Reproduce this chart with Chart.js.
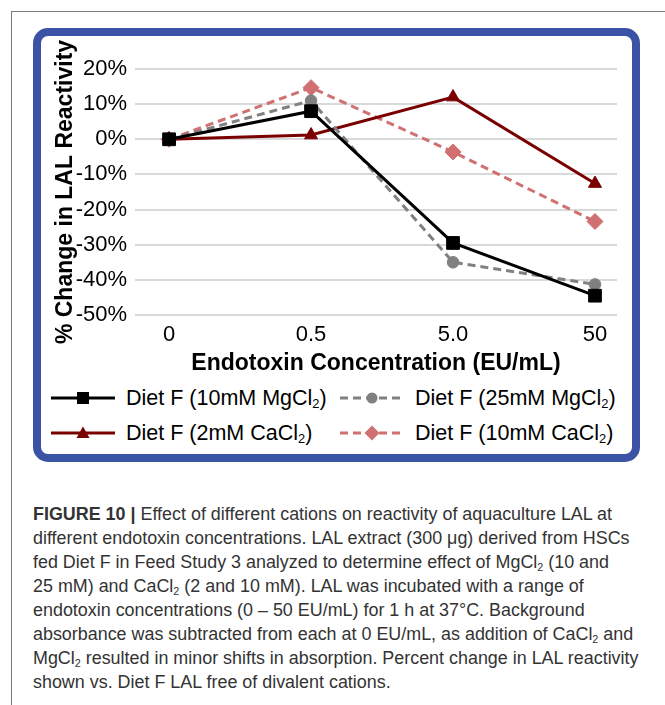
<!DOCTYPE html>
<html>
<head>
<meta charset="utf-8">
<script src="https://cdn.jsdelivr.net/npm/chart.js@4.4.1/dist/chart.umd.min.js"></script>
<style>
  html, body { margin: 0; padding: 0; background: #fff; }
  #page { position: relative; width: 665px; height: 705px; overflow: hidden; font-family: "Liberation Sans", Arial, sans-serif; }
  #frame { position: absolute; left: 11px; top: 11px; width: 660px; height: 700px; border-top: 1px solid #7a7a7a; border-left: 1px solid #7a7a7a; }
  #box { position: absolute; left: 33px; top: 28px; width: 607px; height: 434px; box-sizing: border-box; border: 8px solid #3a53a4; border-radius: 15px; }
  #wrap { position: absolute; left: 41px; top: 36px; width: 591px; height: 345px; }
  .leg { position: absolute; height: 30px; display: flex; align-items: center; font-size: 21.5px; color: #000; white-space: nowrap; }
  .leg svg { margin-right: 11px; }
  sub { font-size: 0.6em; vertical-align: -0.25em; line-height: 0; }
  #caption { position: absolute; left: 33px; top: 502px; font-family: "Liberation Sans", Arial, sans-serif; font-size: 17.5px; line-height: 24px; color: #333; white-space: nowrap; transform-origin: 0 0; }
</style>
</head>
<body>
<div id="page">
  <div id="frame"></div>
  <div id="box"></div>
  <div id="wrap"><canvas id="lalChart" width="591" height="345"></canvas></div>
  <div id="legend"></div>
  <div id="caption"><span id="capLine1"><b>FIGURE 10 |</b> Effect of different cations on reactivity of aquaculture LAL at</span><br>different endotoxin concentrations. LAL extract (300 μg) derived from HSCs<br>fed Diet F in Feed Study 3 analyzed to determine effect of MgCl<sub>2</sub> (10 and<br>25 mM) and CaCl<sub>2</sub> (2 and 10 mM). LAL was incubated with a range of<br>endotoxin concentrations (0 – 50 EU/mL) for 1 h at 37°C. Background<br>absorbance was subtracted from each at 0 EU/mL, as addition of CaCl<sub>2</sub> and<br>MgCl<sub>2</sub> resulted in minor shifts in absorption. Percent change in LAL reactivity<br>shown vs. Diet F LAL free of divalent cations.</div>
</div>
<script>
// endotoxin concentrations (EU/mL), x categories
const concentrations = ['0', '0.5', '5.0', '50'];

// % change in LAL reactivity
const mg10 = [0, 8, -29.5, -44.5];
const mg25 = [0, 11, -35, -41.3];
const ca2 = [0, 1.2, 12, -12.6];
const ca10 = [0, 14.7, -3.6, -23.4];

const seriesNames = ['Diet F (10mM MgCl2)', 'Diet F (25mM MgCl2)', 'Diet F (2mM CaCl2)', 'Diet F (10mM CaCl2)'];
const yTicks = [20, 10, 0, -10, -20, -30, -40, -50];

const styles = [
    { color: '#000000', dash: [], point: 'rect', radius: 9 },
    { color: '#808080', dash: [8, 5], point: 'circle', radius: 5.8 },
    { color: '#7a0000', dash: [], point: 'triangle', radius: 7.5 },
    { color: '#d07070', dash: [8, 5], point: 'rectRot', radius: 8 }
];

const seriesValues = [mg10, mg25, ca2, ca10];

const datasets = seriesValues.map((vals, i) => ({
    label: seriesNames[i],
    data: vals.map((v, j) => ({ x: j, y: v })),
    borderColor: styles[i].color,
    backgroundColor: styles[i].color,
    borderWidth: 3,
    borderDash: styles[i].dash,
    pointStyle: styles[i].point,
    pointRadius: styles[i].radius,
    pointBorderWidth: 1,
    tension: 0
}));

const ctx = document.getElementById('lalChart').getContext('2d');
new Chart(ctx, {
    type: 'line',
    data: { datasets: datasets },
    options: {
        responsive: false,
        animation: false,
        layout: { padding: { left: 0, right: 15, top: 33, bottom: 0 } },
        plugins: {
            legend: { display: false },
            tooltip: { enabled: false }
        },
        scales: {
            x: {
                type: 'linear',
                min: -0.24,
                max: 3.155,
                afterBuildTicks: (scale) => {
                    scale.ticks = concentrations.map((c, i) => ({ value: i }));
                },
                afterFit: (scale) => { scale.height = 66; },
                grid: { display: false, drawTicks: false },
                border: { display: false },
                ticks: {
                    color: '#000',
                    padding: 7,
                    font: { family: 'Liberation Sans', size: 22 },
                    callback: (v) => concentrations[v]
                },
                title: {
                    display: true,
                    text: 'Endotoxin Concentration (EU/mL)',
                    color: '#000',
                    padding: { top: 0, bottom: 4 },
                    font: { family: 'Liberation Sans', size: 23, weight: 'bold' }
                }
            },
            y: {
                min: -50,
                max: 20,
                afterBuildTicks: (scale) => {
                    scale.ticks = yTicks.map((v) => ({ value: v }));
                },
                afterFit: (scale) => { scale.width = 94; },
                grid: { color: '#d9d9d9', lineWidth: 2, drawTicks: false },
                border: { display: false },
                ticks: {
                    color: '#000',
                    padding: 8,
                    font: { family: 'Liberation Sans', size: 22 },
                    callback: (v) => v + '%'
                },
                title: {
                    display: true,
                    text: '% Change in LAL Reactivity',
                    color: '#000',
                    padding: { top: 11, bottom: 0 },
                    font: { family: 'Liberation Sans', size: 23, weight: 'bold' }
                }
            }
        }
    }
});

// legend with line + marker symbols and subscripts
const legendPos = [
    { left: 51, top: 383 },
    { left: 340, top: 383 },
    { left: 51, top: 418 },
    { left: 340, top: 418 }
];

function markerSvg(s) {
    const c = s.color;
    if (s.point === 'rect') return `<rect x="26" y="9" width="12" height="12" fill="${c}"/>`;
    if (s.point === 'circle') return `<circle cx="32" cy="15" r="5.5" fill="${c}"/>`;
    if (s.point === 'triangle') return `<polygon points="32,8.5 38.5,20 25.5,20" fill="${c}"/>`;
    return `<polygon points="32,7.5 39.5,15 32,22.5 24.5,15" fill="${c}"/>`;
}

const legendEl = document.getElementById('legend');
seriesNames.forEach((name, i) => {
    const s = styles[i];
    const dash = s.dash.length ? `stroke-dasharray="${s.dash.join(',')}"` : '';
    const div = document.createElement('div');
    div.className = 'leg';
    div.style.left = legendPos[i].left + 'px';
    div.style.top = legendPos[i].top + 'px';
    div.innerHTML = `<svg width="64" height="30"><line x1="0" y1="15" x2="64" y2="15" stroke="${s.color}" stroke-width="3" ${dash}/>${markerSvg(s)}</svg>` +
        `<span>${name.replace('Cl2', 'Cl<sub>2</sub>')}</span>`;
    legendEl.appendChild(div);
});

// caption in the reference uses a condensed face: squeeze so line 1 spans ~579px
const cap = document.getElementById('caption');
const line1 = document.getElementById('capLine1');
const w = line1.getBoundingClientRect().width;
if (w > 0) cap.style.transform = `scaleX(${579 / w})`;
</script>
</body>
</html>
